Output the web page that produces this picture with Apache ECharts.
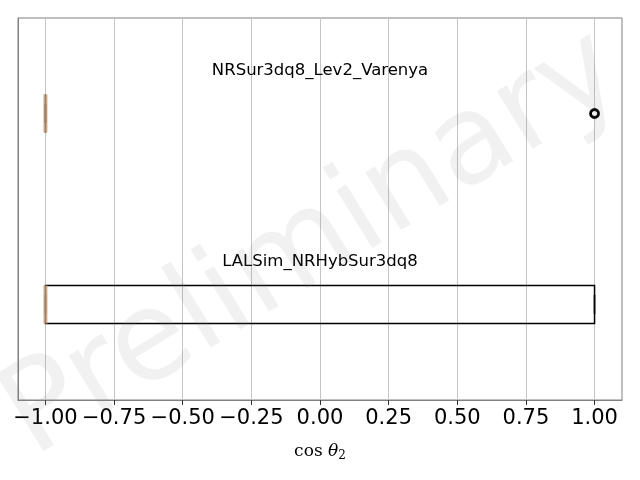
<!DOCTYPE html>
<html>
<head>
<meta charset="utf-8">
<script src="https://cdn.jsdelivr.net/npm/echarts@6/dist/echarts.min.js"></script>
<style>html,body{margin:0;padding:0;background:#fff}#c{width:640px;height:480px}</style>
</head>
<body>
<div id="c"></div>
<script>
// categories from bottom to top
const categories = ['LALSim_NRHybSur3dq8', 'NRSur3dq8_Lev2_Varenya'];
const whiskerLow = [-1, -1];
const q1Values = [-1, -1];
const medianValues = [-1, -1];
const q3Values = [1, -1];
const whiskerHigh = [1, -1];
const outlierValues = [[], [1]];
const xTicks = [-1, -0.75, -0.5, -0.25, 0, 0.25, 0.5, 0.75, 1];
const watermark = 'Preliminary';

const boxData = categories.map((c, i) => [i, whiskerLow[i], q1Values[i], medianValues[i], q3Values[i], whiskerHigh[i]]);
const outlierData = [];
outlierValues.forEach((arr, i) => arr.forEach(v => outlierData.push([v, i])));

function renderBox(params, api) {
  const cat = api.value(0);
  const mn = api.value(1), q1 = api.value(2), med = api.value(3), q3 = api.value(4), mx = api.value(5);
  const band = api.size([0, 1])[1];
  const h = band * 0.2;
  const cy = api.coord([0, cat])[1];
  const cx0 = api.coord([0, cat])[0];
  const xMn = api.coord([mn, cat])[0], xQ1 = api.coord([q1, cat])[0], xMed = api.coord([med, cat])[0];
  const xQ3 = api.coord([q3, cat])[0], xMx = api.coord([mx, cat])[0];
  const capStyle = {stroke: 'rgba(0,0,0,0.3)', lineWidth: 3};
  return {
    type: 'group',
    children: [
      {type: 'rect', shape: {x: xQ1, y: cy - h / 2, width: xQ3 - xQ1, height: h},
       style: {fill: 'none', stroke: '#000', lineWidth: 1.5}},
      {type: 'line', shape: {x1: xMn, y1: cy, x2: xQ1, y2: cy}, style: {stroke: '#000', lineWidth: 1.5}},
      {type: 'line', shape: {x1: xQ3, y1: cy, x2: xMx, y2: cy}, style: {stroke: '#000', lineWidth: 1.5}},
      {type: 'line', shape: {x1: xMn, y1: cy - h / 4, x2: xMn, y2: cy + h / 4}, style: capStyle},
      {type: 'line', shape: {x1: xMx, y1: cy - h / 4, x2: xMx, y2: cy + h / 4}, style: capStyle},
      {type: 'line', shape: {x1: xMed, y1: cy - h / 2, x2: xMed, y2: cy + h / 2},
       style: {stroke: 'rgba(200,160,120,0.8)', lineWidth: 4}},
      {type: 'text', x: cx0, y: cy - 43,
       style: {text: categories[cat], fill: '#000', fontSize: 16.5, fontFamily: 'DejaVu Sans',
               align: 'center', verticalAlign: 'middle'}}
    ]
  };
}

const chart = echarts.init(document.getElementById('c'), null, {renderer: 'canvas'});
chart.setOption({
  animation: false,
  backgroundColor: '#fff',
  grid: {left: 18, right: 18, top: 18, bottom: 80, show: true, borderColor: '#808080', borderWidth: 1, backgroundColor: 'transparent'},
  xAxis: {
    type: 'value', min: -1.1, max: 1.1,
    axisLine: {show: true, lineStyle: {color: '#808080', width: 1}},
    axisTick: {show: true, customValues: xTicks, length: 5, lineStyle: {color: '#333', width: 1}},
    axisLabel: {customValues: xTicks, fontSize: 21, fontFamily: 'DejaVu Sans', color: '#000', margin: 8,
      formatter: v => (v < 0 ? '\u2212' : '') + Math.abs(v).toFixed(2)},
    splitLine: {show: true, lineStyle: {color: '#c4c4c4', width: 1}},
    name: '{a|cos }{b|θ}{c|2}', nameLocation: 'middle', nameGap: 42,
    nameTextStyle: {rich: {
      a: {fontFamily: 'DejaVu Serif', fontSize: 17, color: '#000'},
      b: {fontFamily: 'DejaVu Serif', fontStyle: 'italic', fontSize: 17, color: '#000'},
      c: {fontFamily: 'DejaVu Serif', fontSize: 12, color: '#000', verticalAlign: 'bottom', padding: [8, 0, 0, 0]}
    }}
  },
  yAxis: {
    type: 'category', data: categories,
    axisLine: {show: true, onZero: false, lineStyle: {color: '#808080'}},
    axisTick: {show: false}, axisLabel: {show: false}, splitLine: {show: false}
  },
  series: [
    {type: 'custom', renderItem: renderBox, data: boxData, encode: {x: [1, 2, 3, 4, 5], y: 0}, z: 3},
    {type: 'scatter', data: outlierData, symbol: 'circle', symbolSize: 8,
     itemStyle: {color: '#fff', borderColor: '#000', borderWidth: 2.8, opacity: 1}, z: 4}
  ],
  graphic: [{
    type: 'text', x: 314, y: 246, rotation: Math.PI / 6 + 0.03, z: 100,
    style: {text: watermark, fontSize: 124, fontFamily: 'DejaVu Sans', fill: 'rgba(128,128,128,0.11)',
            align: 'center', verticalAlign: 'middle'}
  }]
});
</script>
</body>
</html>
